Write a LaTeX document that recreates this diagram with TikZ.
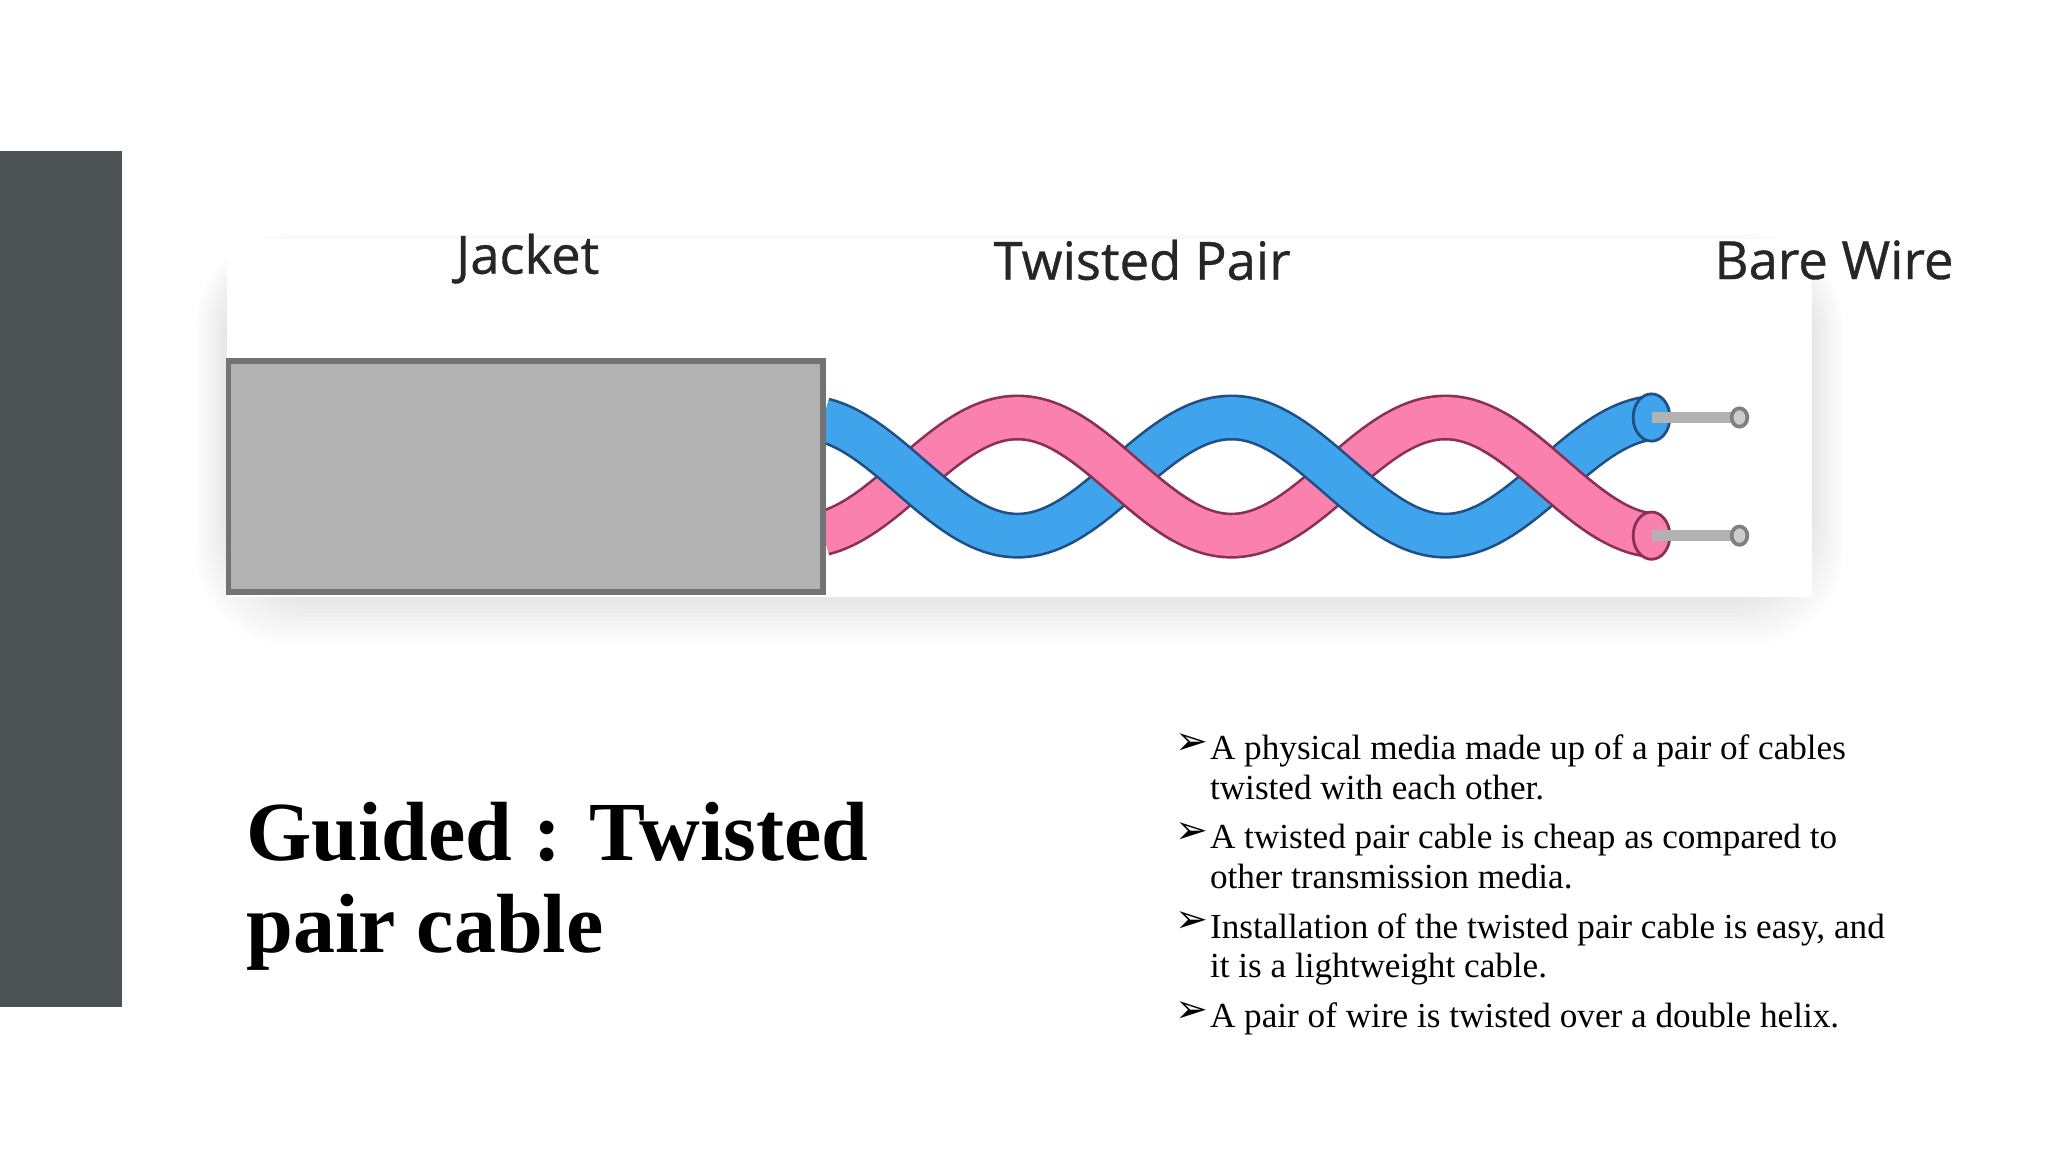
\documentclass[tikz,border=0pt]{standalone}
\usepackage{fontspec}
\setmainfont{Liberation Serif}
\newfontfamily\labfont[BoldFont=Open Sans, BoldFeatures={FakeBold=0.7}]{Open Sans}
\newfontfamily\symfont{DejaVu Sans}
\definecolor{barcol}{HTML}{4D5355}
\definecolor{bluew}{HTML}{3FA4EC}
\definecolor{pinkw}{HTML}{FA80AE}
\definecolor{blueo}{HTML}{1F4F86}
\definecolor{pinko}{HTML}{8A2F55}
\begin{document}
\begin{tikzpicture}[x=0.01cm,y=-0.01cm,
  declare function={wv(\t,\s)=363+\s*45*cos(((\t-612)/163)*180);},
  lab/.style={font=\labfont\bfseries\fontsize{11.4}{14}\selectfont, text=black!85},
  bul/.style={font=\fontsize{7.62}{8.6}\selectfont, anchor=north west, inner sep=0pt, align=left},
  bsym/.style={font=\symfont\fontsize{8.5}{8}\selectfont, anchor=north west, inner sep=0pt}]
\useasboundingbox (0,0) rectangle (1560,877.5);
\fill[white] (0,0) rectangle (1560,877.5);
\fill[barcol] (0,115) rectangle (93,767);
% panel with faint shadow
\foreach \k in {1,...,12}{
  \fill[black, opacity=0.008, rounded corners=20] (173-2*\k,190-\k) rectangle (1380+2*\k,455+3*\k);
}
\fill[white] (173,182) rectangle (1380,455);
\node[lab] (jk) at (402,197) {Jacket};
\node[lab] (tp) at (870,198) {Twisted Pair};
\node[lab] (bw) at (1397,198) {Bare Wire};
% wires
\draw[pinko, line width=0.35cm] plot[domain=627:1258,samples=160] (\x,{wv(\x,1)});
\draw[pinkw, line width=0.31cm] plot[domain=627:1258,samples=160] (\x,{wv(\x,1)});
\draw[blueo, line width=0.35cm] plot[domain=627:1258,samples=160] (\x,{wv(\x,-1)});
\draw[bluew, line width=0.31cm] plot[domain=627:1258,samples=160] (\x,{wv(\x,-1)});
\foreach \c in {856,1182}{
  \draw[pinko, line width=0.35cm] plot[domain=\c-45:\c+45,samples=40] (\x,{wv(\x,1)});
  \draw[pinkw, line width=0.31cm] plot[domain=\c-46:\c+46,samples=40] (\x,{wv(\x,1)});
}
% ends
\draw[blueo, fill=bluew, line width=0.6] (1258,318) ellipse [x radius=14, y radius=18];
\draw[pinko, fill=pinkw, line width=0.6] (1258,408) ellipse [x radius=14, y radius=18];
\foreach \yy in {318,408}{
  \draw[black!30, line width=0.08cm] (1258,\yy) -- (1322,\yy);
  \draw[black!50, fill=black!20, line width=0.8] (1325,\yy) ellipse [x radius=6, y radius=7];
}
% jacket
\draw[black!55, fill=black!30, line width=1.2] (174,275) rectangle (627,451);
% title
\node[font=\bfseries\fontsize{18.2}{20.5}\selectfont, anchor=north west, inner sep=0pt, align=left] (title) at (187,610) {Guided : Twisted\\[-0.5pt]pair cable};
% bullets
\foreach \yy/\tx [count=\i] in {558/{A physical media made up of a pair of cables\\twisted with each other.},
  626/{A twisted pair cable is cheap as compared to\\other transmission media.},
  694/{Installation of the twisted pair cable is easy, and\\it is a lightweight cable.},
  762/{A pair of wire is twisted over a double helix.}}{
  \node[bsym] (s\i) at (895,\yy) {➢};
  \node[bul] (t\i) at (921,\yy+1) {\tx};
}
\end{tikzpicture}
\end{document}
